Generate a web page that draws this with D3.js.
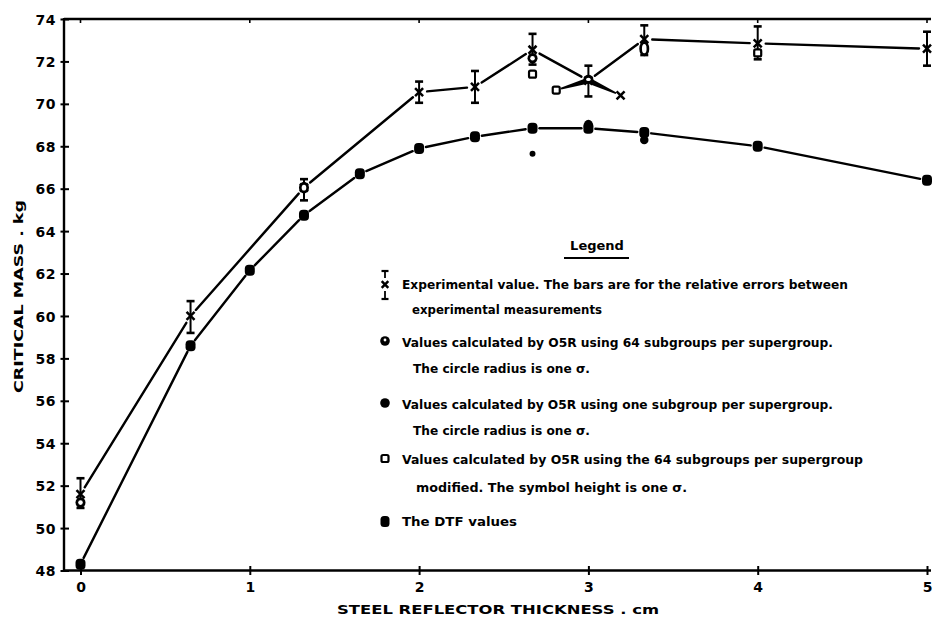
<!DOCTYPE html>
<html>
<head>
<meta charset="utf-8">
<script src="https://cdn.jsdelivr.net/npm/d3@7"></script>
<style>
  body { margin: 0; background: #fff; }
  svg { display: block; }
  text { font-family: "DejaVu Sans", sans-serif; fill: #000; }
</style>
</head>
<body>
<svg id="chart" width="934" height="617"></svg>
<script>
// axis ticks
const xTicks = [0, 1, 2, 3, 4, 5];
const yTicks = [48, 50, 52, 54, 56, 58, 60, 62, 64, 66, 68, 70, 72, 74];

// DTF values (lower curve)
const dtfX = [0, 0.65, 1, 1.32, 1.65, 2, 2.33, 2.67, 3, 3.33, 4, 5];
const dtfY = [48.3, 58.6, 62.15, 64.75, 66.7, 67.9, 68.45, 68.85, 68.85, 68.65, 68.0, 66.4];

// experimental values with error bars (upper curve)
const expX  = [0, 0.65, 1.32, 2, 2.33, 2.67, 3, 3.33, 4, 5];
const expY  = [51.6, 60.0, 66.05, 70.55, 70.8, 72.55, 71.1, 73.05, 72.85, 72.6];
const expHi = [52.35, 60.7, 66.45, 71.05, 71.55, 73.3, 71.8, 73.7, 73.65, 73.4];
const expLo = [50.95, 59.2, 65.45, 70.05, 70.05, 71.85, 70.35, 72.3, 72.1, 71.8];

// side branch near 3 cm
const branchX = [2.81, 3, 3.19];
const branchY = [70.65, 71.1, 70.4];

// O5R, 64 subgroups per supergroup (radius = one sigma)
const o64X = [0, 1.32, 2.67, 3, 3.33];
const o64Y = [51.2, 66.05, 72.15, 71.15, 72.6];
const o64Sig = [0.25, 0.28, 0.25, 0.22, 0.36];

// O5R, one subgroup per supergroup
const o1X = [2.67, 3, 3.33];
const o1Y = [67.65, 68.95, 68.3];
const o1Sig = [0.14, 0.3, 0.2];

// O5R, 64 subgroups modified
const omX = [2.67, 2.81, 4];
const omY = [71.4, 70.65, 72.4];

const legendLines = [
  { text: "Experimental value.  The bars are for the relative errors between", x: 402, y: 284, w: 446 },
  { text: "experimental  measurements", x: 412, y: 309, w: 190 },
  { text: "Values calculated by O5R using 64 subgroups per supergroup.", x: 402, y: 342, w: 431 },
  { text: "The circle radius is one σ.", x: 413, y: 368, w: 177 },
  { text: "Values calculated by O5R using one subgroup per supergroup.", x: 402, y: 404, w: 431 },
  { text: "The circle radius is one σ.", x: 413, y: 430, w: 177 },
  { text: "Values calculated by O5R using the 64 subgroups per supergroup", x: 402, y: 459, w: 461 },
  { text: "modified.  The symbol height is one σ.", x: 416, y: 487, w: 271 },
  { text: "The DTF values", x: 402, y: 521, w: 115 }
];

const svg = d3.select("#chart");
const x = d3.scaleLinear().domain([0, 5]).range([80.5, 927]);
const y = d3.scaleLinear().domain([48, 74]).range([570.5, 19]);
const left = 64, right = 931;

// frame
svg.append("line").attr("x1", left).attr("x2", right).attr("y1", y(74)).attr("y2", y(74))
  .attr("stroke", "#000").attr("stroke-width", 2.4);
svg.append("line").attr("x1", left).attr("x2", right).attr("y1", y(48)).attr("y2", y(48))
  .attr("stroke", "#000").attr("stroke-width", 2.4);
svg.append("line").attr("x1", left).attr("x2", left).attr("y1", y(74) - 1).attr("y2", y(48) + 1)
  .attr("stroke", "#000").attr("stroke-width", 2.4);

// top ticks
svg.selectAll(".topTick").data(xTicks).enter().append("line")
  .attr("x1", d => x(d)).attr("x2", d => x(d))
  .attr("y1", y(74)).attr("y2", y(74) + 4)
  .attr("stroke", "#000").attr("stroke-width", 1.6);

// y axis
const gy = svg.append("g").attr("transform", `translate(${left},0)`)
  .call(d3.axisLeft(y).tickValues(yTicks).tickSize(4).tickPadding(4).tickSizeOuter(0));
gy.select(".domain").remove();
gy.selectAll(".tick line").attr("x1", -3.5).attr("x2", 5).attr("stroke-width", 2);
gy.selectAll(".tick text")
  .style("font-family", "DejaVu Sans").style("font-weight", "bold")
  .style("font-size", "14px").style("letter-spacing", "0.5px").attr("dy", "0.36em");

// x axis
const gx = svg.append("g").attr("transform", `translate(0,${y(48)})`)
  .call(d3.axisBottom(x).tickValues(xTicks).tickFormat(d3.format("d")).tickSize(4).tickPadding(8).tickSizeOuter(0));
gx.select(".domain").remove();
gx.selectAll(".tick line").attr("y1", -4.5).attr("y2", 4.5).attr("stroke-width", 2);
gx.selectAll(".tick text")
  .style("font-family", "DejaVu Sans").style("font-weight", "bold").style("font-size", "14px");

// axis titles
svg.append("text")
  .attr("x", 337).attr("y", 614)
  .attr("textLength", 322).attr("lengthAdjust", "spacingAndGlyphs")
  .style("font-weight", "bold").style("font-size", "12.5px")
  .text("STEEL REFLECTOR THICKNESS . cm");
svg.append("text")
  .attr("transform", "translate(23,393) rotate(-90)")
  .attr("textLength", 193).attr("lengthAdjust", "spacingAndGlyphs")
  .style("font-weight", "bold").style("font-size", "13px")
  .text("CRITICAL  MASS . kg");

// segment drawing with small gaps at the markers
function gappedLine(xs, ys, gap, width) {
  const pts = xs.map((d, i) => [x(d), y(ys[i])]);
  for (let i = 0; i < pts.length - 1; i++) {
    const [x1, y1] = pts[i], [x2, y2] = pts[i + 1];
    const len = Math.hypot(x2 - x1, y2 - y1);
    const ux = (x2 - x1) / len, uy = (y2 - y1) / len;
    svg.append("line")
      .attr("x1", x1 + ux * gap).attr("y1", y1 + uy * gap)
      .attr("x2", x2 - ux * gap).attr("y2", y2 - uy * gap)
      .attr("stroke", "#000").attr("stroke-width", width).attr("stroke-linecap", "round");
  }
}
gappedLine(dtfX, dtfY, 7, 2.4);
gappedLine(expX, expY, 8, 2.4);

// tapered branch around the 3 cm point
function wedge(xa, ya, xb, yb, w) {
  const ax = x(xa), ay = y(ya), bx = x(xb), by = y(yb);
  const len = Math.hypot(bx - ax, by - ay);
  const nx = -(by - ay) / len, ny = (bx - ax) / len;
  const ux = (bx - ax) / len, uy = (by - ay) / len;
  const sx = ax + ux * 5, sy = ay + uy * 5;   // thin end near far marker
  const ex = bx - ux * 3, ey = by - uy * 3;   // thick end near centre
  svg.append("path")
    .attr("d", `M${sx + nx * 0.9},${sy + ny * 0.9}L${ex + nx * w},${ey + ny * w}L${ex - nx * w},${ey - ny * w}L${sx - nx * 0.9},${sy - ny * 0.9}Z`)
    .attr("fill", "#000");
}
wedge(branchX[0], branchY[0], branchX[1], branchY[1], 2.8);
wedge(branchX[2], branchY[2], branchX[1], branchY[1], 2.8);

// DTF markers
svg.selectAll(".dtf").data(dtfX).enter().append("rect")
  .attr("x", d => x(d) - 5).attr("y", (d, i) => y(dtfY[i]) - 5.5)
  .attr("width", 10).attr("height", 11).attr("rx", 4)
  .attr("fill", "#000");

// O5R one subgroup (filled circles)
svg.selectAll(".o1").data(o1X).enter().append("ellipse")
  .attr("cx", d => x(d)).attr("cy", (d, i) => y(o1Y[i]))
  .attr("rx", (d, i) => Math.min(4.8, Math.abs(y(48) - y(48 + o1Sig[i]))))
  .attr("ry", (d, i) => Math.abs(y(48) - y(48 + o1Sig[i])))
  .attr("fill", "#000");

// error bars for experimental values
function xMark(cx, cy, s) {
  svg.append("path")
    .attr("d", `M${cx - s},${cy - s}L${cx + s},${cy + s}M${cx + s},${cy - s}L${cx - s},${cy + s}`)
    .attr("stroke", "#000").attr("stroke-width", 2.5).attr("fill", "none");
}
expX.forEach((d, i) => {
  const cx = x(d);
  svg.append("line").attr("x1", cx).attr("x2", cx).attr("y1", y(expHi[i])).attr("y2", y(expLo[i]))
    .attr("stroke", "#000").attr("stroke-width", 2);
  [expHi[i], expLo[i]].forEach(v => {
    svg.append("line").attr("x1", cx - 4).attr("x2", cx + 4).attr("y1", y(v)).attr("y2", y(v))
      .attr("stroke", "#000").attr("stroke-width", 2.6);
  });
  xMark(cx, y(expY[i]), 4);
});
xMark(x(branchX[2]), y(branchY[2]), 4);

// O5R 64 subgroups (ring, radius one sigma)
o64X.forEach((d, i) => {
  const ry = Math.abs(y(48) - y(48 + o64Sig[i]));
  svg.append("ellipse").attr("cx", x(d)).attr("cy", y(o64Y[i]))
    .attr("rx", 5).attr("ry", ry).attr("fill", "#000");
  svg.append("ellipse").attr("cx", x(d)).attr("cy", y(o64Y[i]))
    .attr("rx", 2.3).attr("ry", Math.max(1.3, ry - 3)).attr("fill", "#fff");
});

// O5R 64 subgroups modified (small open squares)
omX.forEach((d, i) => {
  svg.append("rect").attr("x", x(d) - 3.5).attr("y", y(omY[i]) - 3.5)
    .attr("width", 7).attr("height", 7).attr("rx", 1.5)
    .attr("fill", "#fff").attr("stroke", "#000").attr("stroke-width", 2.2);
});

// legend
svg.append("text").attr("x", 597).attr("y", 250).attr("text-anchor", "middle")
  .style("font-weight", "bold").style("font-size", "13px").text("Legend");
svg.append("line").attr("x1", 564).attr("x2", 629).attr("y1", 258).attr("y2", 258)
  .attr("stroke", "#000").attr("stroke-width", 2.2);

svg.selectAll(".leg").data(legendLines).enter().append("text")
  .attr("x", d => d.x).attr("y", d => d.y + 4.5)
  .attr("textLength", d => d.w).attr("lengthAdjust", "spacingAndGlyphs")
  .style("font-size", "12px").style("font-weight", "bold")
  .text(d => d.text);

// legend symbols
const lx = 385;
svg.append("line").attr("x1", lx).attr("x2", lx).attr("y1", 271).attr("y2", 278).attr("stroke", "#000").attr("stroke-width", 1.8);
svg.append("line").attr("x1", lx - 3.5).attr("x2", lx + 3.5).attr("y1", 271).attr("y2", 271).attr("stroke", "#000").attr("stroke-width", 2.2);
xMark(lx, 284.5, 3.3);
svg.append("line").attr("x1", lx).attr("x2", lx).attr("y1", 291).attr("y2", 299).attr("stroke", "#000").attr("stroke-width", 1.8);
svg.append("line").attr("x1", lx - 3.5).attr("x2", lx + 3.5).attr("y1", 299).attr("y2", 299).attr("stroke", "#000").attr("stroke-width", 2.2);

svg.append("circle").attr("cx", lx).attr("cy", 341).attr("r", 4.8).attr("fill", "#000");
svg.append("circle").attr("cx", lx).attr("cy", 340).attr("r", 1.4).attr("fill", "#fff");
svg.append("circle").attr("cx", lx).attr("cy", 403).attr("r", 4.8).attr("fill", "#000");
svg.append("rect").attr("x", lx - 3.5).attr("y", 455).attr("width", 7).attr("height", 7).attr("rx", 1.5)
  .attr("fill", "#fff").attr("stroke", "#000").attr("stroke-width", 2.2);
svg.append("rect").attr("x", lx - 4.5).attr("y", 516).attr("width", 9).attr("height", 11).attr("rx", 3.5)
  .attr("fill", "#000");
</script>
</body>
</html>
